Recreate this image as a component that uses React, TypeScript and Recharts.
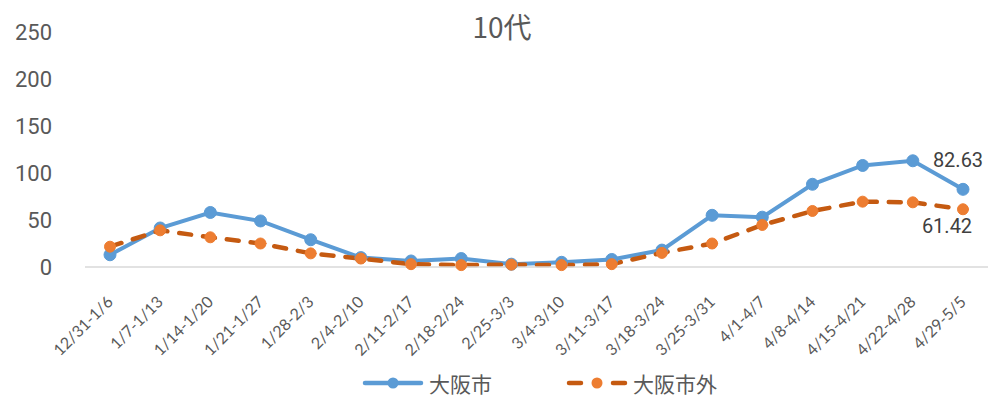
import React from "react";
import { LineChart, Line, XAxis, YAxis } from "recharts";

const weeks = [
  "12/31-1/6", "1/7-1/13", "1/14-1/20", "1/21-1/27", "1/28-2/3", "2/4-2/10",
  "2/11-2/17", "2/18-2/24", "2/25-3/3", "3/4-3/10", "3/11-3/17", "3/18-3/24",
  "3/25-3/31", "4/1-4/7", "4/8-4/14", "4/15-4/21", "4/22-4/28", "4/29-5/5",
];
const osakaCity = [13, 41.5, 58, 49, 29, 10, 6.4, 9, 3, 5, 8, 18, 55, 53, 88, 108, 113, 82.63];
const outsideCity = [21.6, 39, 31.6, 25, 14.5, 9, 3, 2, 2.5, 2, 3, 15, 25, 44.7, 59.6, 69.5, 68.8, 61.42];
const yTicks = [0, 50, 100, 150, 200, 250];

const rows = weeks.map((w, i) => ({ week: w, city: osakaCity[i], outside: outsideCity[i] }));

const BLUE = "#5B9BD5";
const ORANGE = "#ED7D31";
const DARK_ORANGE = "#C55A11";
const GREY = "#595959";
const last = weeks.length - 1;

function WeekTick(props: any) {
  const { x, y, payload } = props;
  return (
    <g transform={`translate(${x + 4},${y + 28}) rotate(-45)`}>
      <text x={0} y={0} textAnchor="end" fill={GREY} fontSize={16} fontFamily="Lato, 'Open Sans', sans-serif">
        {payload.value}
      </text>
    </g>
  );
}

function lastLabel(dx: number, dy: number) {
  return (props: any) => {
    const { x, y, value, index } = props;
    if (index !== last) return null;
    return (
      <text x={x + dx} y={y + dy} textAnchor="middle" fill="#404040" fontSize={20} fontFamily="Roboto, sans-serif">
        {value}
      </text>
    );
  };
}

function LegendBox() {
  const item = (label: string, color: string, dotColor: string, dashed: boolean, gap: number) => (
    <div style={{ display: "flex", alignItems: "center", marginRight: gap }}>
      <svg width={62} height={14}>
        <line x1={3} y1={7} x2={59} y2={7} stroke={color} strokeWidth={4.5} strokeLinecap="round"
          strokeDasharray={dashed ? "12 32" : undefined} />
        <circle cx={31} cy={7} r={5.5} fill={dotColor} />
      </svg>
      <span style={{ marginLeft: 5, color: GREY, fontSize: 21, fontFamily: "'Noto Sans CJK JP', sans-serif" }}>{label}</span>
    </div>
  );
  return (
    <div style={{ position: "absolute", top: 368, left: 362, display: "flex" }}>
      {item("大阪市", BLUE, BLUE, false, 74)}
      {item("大阪市外", DARK_ORANGE, ORANGE, true, 0)}
    </div>
  );
}

export default function App() {
  return (
    <div style={{ position: "relative", width: 989, height: 402, background: "#fff" }}>
      <style>{"body{margin:0}"}</style>
      <svg width={989} height={50} style={{ position: "absolute", top: 0, left: 0 }}>
        <text x={502} y={38} textAnchor="middle" fill={GREY} fontSize={28} fontFamily="'Noto Sans CJK JP', sans-serif">
          10代
        </text>
      </svg>
      <LineChart width={989} height={402} data={rows} margin={{ top: 32, right: 1, bottom: 55, left: 0 }}>
        <XAxis dataKey="week" interval={0} height={80} tick={<WeekTick />} tickLine={false}
          padding={{ left: 25, right: 25 }}
          axisLine={{ stroke: "#D9D9D9", strokeWidth: 1.5 }} />
        <YAxis domain={[0, 250]} ticks={yTicks} width={85} tickSize={0} tickMargin={33} axisLine={false} tickLine={false}
          tick={{ fill: GREY, fontSize: 22, fontFamily: "Roboto, sans-serif" }} />
        <Line type="linear" dataKey="city" name="大阪市" stroke={BLUE} strokeWidth={4}
          dot={{ r: 6, fill: BLUE, stroke: BLUE, strokeWidth: 1 }} label={lastLabel(-5, -22)} isAnimationActive={false} />
        <Line type="linear" dataKey="outside" name="大阪市外" stroke={DARK_ORANGE} strokeWidth={4.5}
          strokeDasharray="12 12" strokeLinecap="round"
          dot={{ r: 5.5, fill: ORANGE, stroke: ORANGE, strokeWidth: 1, strokeDasharray: "" }}
          label={lastLabel(-16, 24)} isAnimationActive={false} />
      </LineChart>
      <LegendBox />
    </div>
  );
}
